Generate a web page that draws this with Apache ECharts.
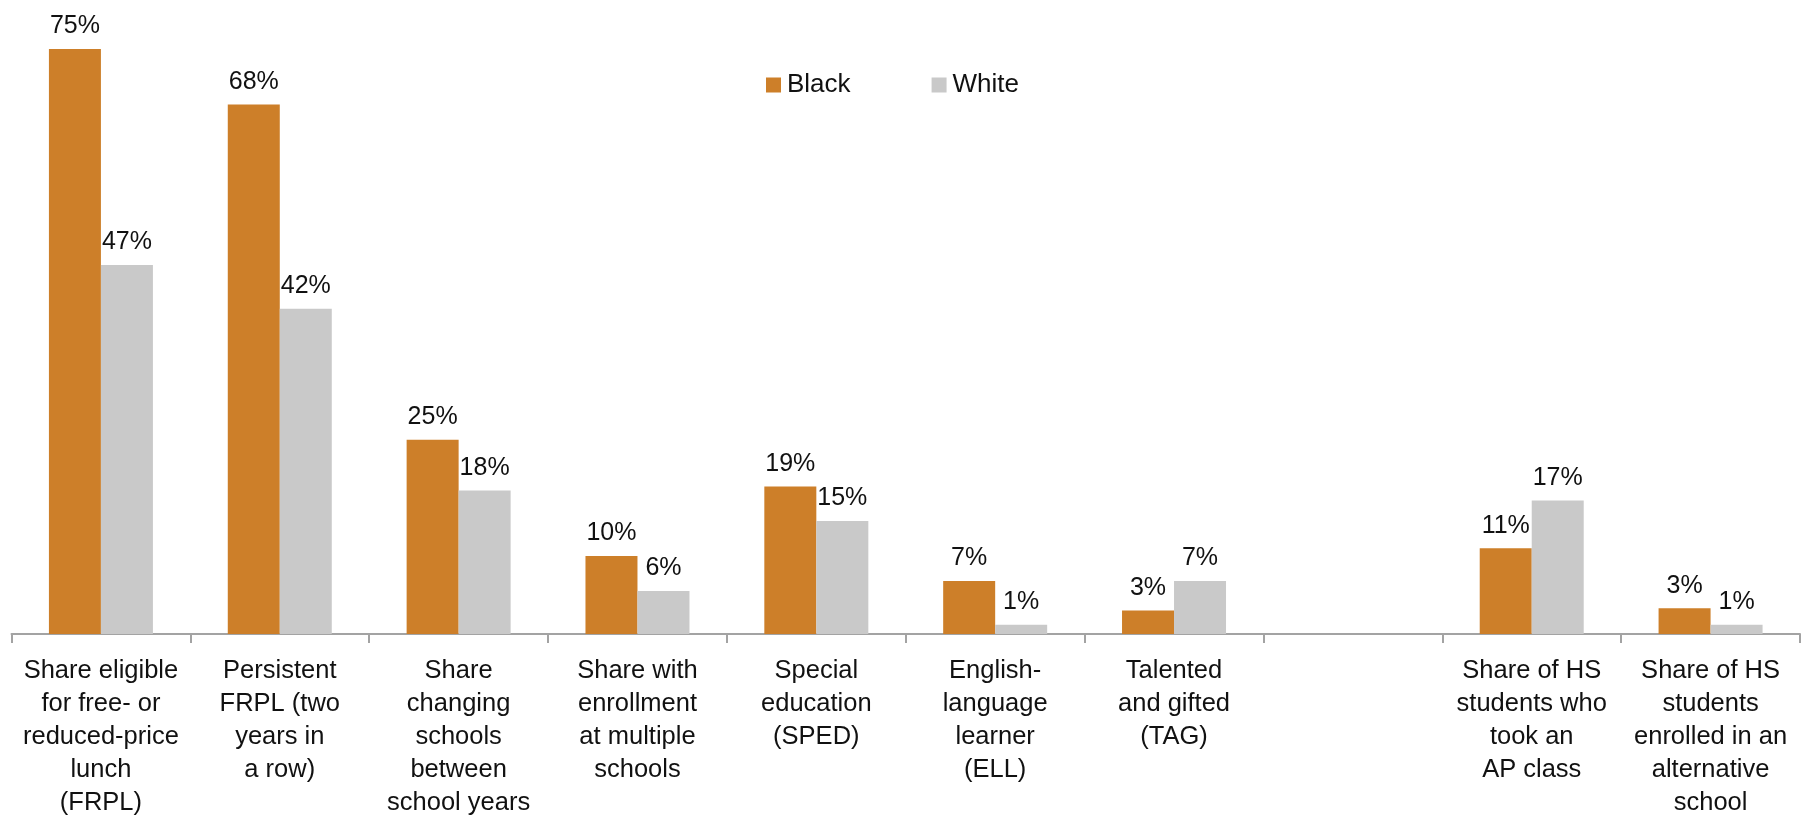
<!DOCTYPE html>
<html><head><meta charset="utf-8">
<script src="https://cdn.jsdelivr.net/npm/echarts@6/dist/echarts.min.js"></script>
<style>html,body{margin:0;padding:0;background:#fff}#c{width:1802px;height:817px}</style>
</head><body><div id="c"></div>
<script>
const categories = [
  "Share eligible\nfor free- or\nreduced-price\nlunch\n(FRPL)",
  "Persistent\nFRPL (two\nyears in\na row)",
  "Share\nchanging\nschools\nbetween\nschool years",
  "Share with\nenrollment\nat multiple\nschools",
  "Special\neducation\n(SPED)",
  "English-\nlanguage\nlearner\n(ELL)",
  "Talented\nand gifted\n(TAG)",
  "",
  "Share of HS\nstudents who\ntook an\nAP class",
  "Share of HS\nstudents\nenrolled in an\nalternative\nschool"
];
const black = [75, 67.9, 24.9, 10, 18.9, 6.8, 3, null, 11, 3.3];
const white = [47.3, 41.7, 18.4, 5.5, 14.5, 1.2, 6.8, null, 17.1, 1.2];

const font = "'Liberation Sans', Arial, sans-serif";
const chart = echarts.init(document.getElementById('c'));
const lbl = {show: true, position: 'top', distance: 10, color: '#111', fontSize: 25, fontFamily: font,
  formatter: p => p.value == null ? '' : Math.round(p.value) + '%'};
chart.setOption({
  animation: false,
  legend: {
    left: 761, top: 67, itemWidth: 15, itemHeight: 15, itemGap: 81, icon: 'rect',
    textStyle: {fontSize: 26, fontFamily: font, color: '#111', padding: [0, 0, 0, 1]},
    data: ['Black', 'White']
  },
  grid: {left: 11.5, right: 2, top: 10, bottom: 183, containLabel: false, outerBoundsMode: 'none'},
  xAxis: {
    type: 'category', data: categories,
    axisLine: {lineStyle: {color: '#a3a3a3', width: 2}},
    axisTick: {show: true, length: 9, lineStyle: {color: '#a3a3a3', width: 2}, alignWithLabel: false},
    axisLabel: {interval: 0, color: '#111', fontSize: 25.5, fontFamily: font, lineHeight: 33, margin: 20, align: 'center'}
  },
  yAxis: {type: 'value', min: 0, max: 80, show: false, splitLine: {show: false}},
  series: [
    {name: 'Black', type: 'bar', data: black, barWidth: 52, barGap: '0%', itemStyle: {color: '#cd7f29'}, label: lbl},
    {name: 'White', type: 'bar', data: white, barWidth: 52, itemStyle: {color: '#c9c9c9'}, label: lbl}
  ]
});
</script></body></html>
